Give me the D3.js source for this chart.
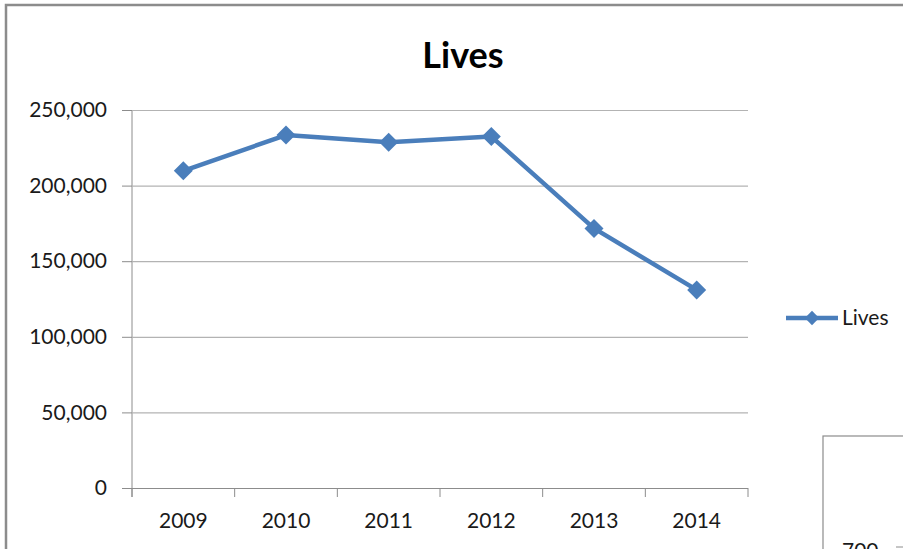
<!DOCTYPE html>
<html>
<head>
<meta charset="utf-8">
<script src="https://cdn.jsdelivr.net/npm/d3@7"></script>
<style>
  body { margin: 0; background: #fff; }
  svg { display: block; }
  text { font-family: Lato, "Open Sans", sans-serif; fill: #1a1a1a; }
</style>
</head>
<body>
<svg id="chart"></svg>
<script>
// values
const years = ["2009", "2010", "2011", "2012", "2013", "2014"];
const lives = [209800, 233400, 228600, 232400, 171700, 131000];
const yTicks = [0, 50000, 100000, 150000, 200000, 250000];
const seriesName = "Lives";

const WIDTH = 903, HEIGHT = 549;
const PLOT = {left: 132, right: 748, top: 110, bottom: 488};
const BLUE = "#4a7ebb";

const svg = d3.select("#chart").attr("width", WIDTH).attr("height", HEIGHT);

// outer chart frame
svg.append("rect")
  .attr("x", 6).attr("y", 5)
  .attr("width", WIDTH + 20).attr("height", HEIGHT + 20)
  .attr("fill", "#fff").attr("stroke", "#8c8c8c").attr("stroke-width", 2.5);

// title
svg.append("text")
  .attr("x", 463).attr("y", 68)
  .attr("text-anchor", "middle")
  .style("font-size", "36px").style("font-weight", "bold").style("fill", "#000")
  .text("Lives");

const x = d3.scaleBand().domain(years).range([PLOT.left, PLOT.right]);
const y = d3.scaleLinear().domain([0, 250000]).range([PLOT.bottom, PLOT.top]);

// gridlines + y axis
const yAxis = svg.append("g")
  .attr("transform", `translate(${PLOT.left},0)`)
  .call(d3.axisLeft(y).tickValues(yTicks).tickFormat(d3.format(",")).tickSize(10).tickPadding(15));
yAxis.select(".domain").attr("stroke", "#8c8c8c").attr("d", `M0,${PLOT.top}V${PLOT.bottom + 9}`);
yAxis.selectAll(".tick line").attr("stroke", "#8c8c8c");
yAxis.selectAll(".tick text")
  .style("font-size", "21px").style("fill", "#1a1a1a")
  .attr("font-family", null);
yAxis.selectAll(".tick").append("line")
  .attr("x1", 0).attr("x2", PLOT.right - PLOT.left)
  .attr("stroke", (d) => d === 0 ? "#8c8c8c" : "#b3b3b3")
  .attr("stroke-width", 1.2);

// x axis with ticks at category boundaries
const xAxis = svg.append("g").attr("transform", `translate(0,${PLOT.bottom})`);
const bounds = years.map(d => x(d)).concat([x(years[years.length - 1]) + x.bandwidth()]);
xAxis.selectAll("line.bound")
  .data(bounds)
  .enter().append("line")
  .attr("class", "bound")
  .attr("x1", d => d).attr("x2", d => d)
  .attr("y1", 0).attr("y2", 9)
  .attr("stroke", "#8c8c8c");
xAxis.selectAll("text")
  .data(years)
  .enter().append("text")
  .attr("x", d => x(d) + x.bandwidth() / 2)
  .attr("y", 40)
  .attr("text-anchor", "middle")
  .style("font-size", "21px")
  .text(d => d);

// series line
const pts = years.map((d, i) => [x(d) + x.bandwidth() / 2, y(lives[i])]);
svg.append("path")
  .datum(pts)
  .attr("d", d3.line())
  .attr("fill", "none")
  .attr("stroke", BLUE)
  .attr("stroke-width", 4.5)
  .attr("stroke-linejoin", "round");

const diamond = d3.symbol().type(d3.symbolDiamond2).size(230);
svg.selectAll("path.marker")
  .data(pts)
  .enter().append("path")
  .attr("class", "marker")
  .attr("transform", d => `translate(${d[0]},${d[1]})`)
  .attr("d", diamond)
  .attr("fill", BLUE);

// legend
const legend = svg.append("g").attr("transform", "translate(786,318)");
legend.append("line")
  .attr("x1", 0).attr("x2", 52)
  .attr("stroke", BLUE).attr("stroke-width", 4.5);
legend.append("path")
  .attr("transform", "translate(26,0)")
  .attr("d", d3.symbol().type(d3.symbolDiamond2).size(130))
  .attr("fill", BLUE);
legend.append("text")
  .attr("x", 56).attr("y", 7)
  .style("font-size", "21px")
  .text(seriesName);

// edge of the next chart peeking in at bottom right
const next = svg.append("g");
next.append("rect")
  .attr("x", 823).attr("y", 436)
  .attr("width", 120).attr("height", 150)
  .attr("fill", "#fff").attr("stroke", "#8c8c8c").attr("stroke-width", 1.2);
next.append("text")
  .attr("x", 842).attr("y", 558)
  .style("font-size", "21px")
  .text("700");
next.append("line")
  .attr("x1", 896).attr("x2", 903).attr("y1", 547).attr("y2", 547)
  .attr("stroke", "#8c8c8c");
</script>
</body>
</html>
